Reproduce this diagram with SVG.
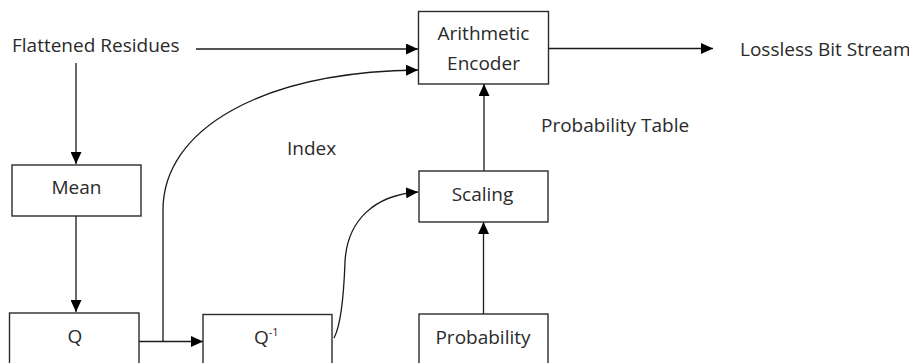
<svg xmlns="http://www.w3.org/2000/svg" width="909" height="363" viewBox="0 0 909 363">
<style>
.box{fill:#fff;stroke:#2b2b2b;stroke-width:1.4}
.lbl{font-family:"Open Sans","Liberation Sans",sans-serif;font-size:19px;fill:#2a2a2a}
.mid{text-anchor:middle}
.con{fill:none;stroke:#1a1a1a;stroke-width:1.3}
</style>
<defs>
<marker id="ah" markerUnits="userSpaceOnUse" markerWidth="13" markerHeight="11" refX="12" refY="5.5" orient="auto">
<path d="M0,0 L12,5.5 L0,11 Z" fill="#000"/>
</marker>
</defs>
<rect width="909" height="363" fill="#fff"/>
<g id="connectors">
<path class="con" d="M196,49 L418,49" marker-end="url(#ah)"/>
<path class="con" d="M76,63 L76,164" marker-end="url(#ah)"/>
<path class="con" d="M76,216 L76,312" marker-end="url(#ah)"/>
<path class="con" d="M139,341.5 L203,341.5" marker-end="url(#ah)"/>
<path class="con" d="M163,341.5 L163,210 C163,130 260,72 418,70" marker-end="url(#ah)"/>
<path class="con" d="M334,338 C341,325 344,290 345,262 C347,220 375,195 418,192" marker-end="url(#ah)"/>
<path class="con" d="M483.5,314 L483.5,222" marker-end="url(#ah)"/>
<path class="con" d="M484,171 L484,84" marker-end="url(#ah)"/>
<path class="con" d="M548.5,48.5 L713,48.5" marker-end="url(#ah)"/>
</g>
<g id="flattened"><text class="lbl" x="12" y="52">Flattened Residues</text></g>
<g id="encoder">
<rect class="box" x="418.5" y="11.5" width="130" height="72.5"/>
<text class="lbl mid" x="483.5" y="40">Arithmetic</text>
<text class="lbl mid" x="483.5" y="70">Encoder</text>
</g>
<g id="lossless"><text class="lbl" x="740" y="55.5">Lossless Bit Stream</text></g>
<g id="index"><text class="lbl" x="287" y="155">Index</text></g>
<g id="probtable"><text class="lbl" x="541" y="131.5">Probability Table</text></g>
<g id="mean">
<rect class="box" x="12" y="165" width="129" height="51"/>
<text class="lbl mid" x="76.5" y="194">Mean</text>
</g>
<g id="q">
<rect class="box" x="9.5" y="313" width="129.5" height="60"/>
<text class="lbl mid" x="75" y="343">Q</text>
</g>
<g id="qinv">
<rect class="box" x="203" y="314.5" width="129" height="60"/>
<text class="lbl" x="254" y="344">Q<tspan font-size="11" dy="-8">-1</tspan></text>
</g>
<g id="scaling">
<rect class="box" x="419" y="171" width="129" height="51"/>
<text class="lbl mid" x="482.5" y="201">Scaling</text>
</g>
<g id="probability">
<rect class="box" x="419" y="314" width="129" height="60"/>
<text class="lbl mid" x="483" y="344">Probability</text>
</g>
</svg>
